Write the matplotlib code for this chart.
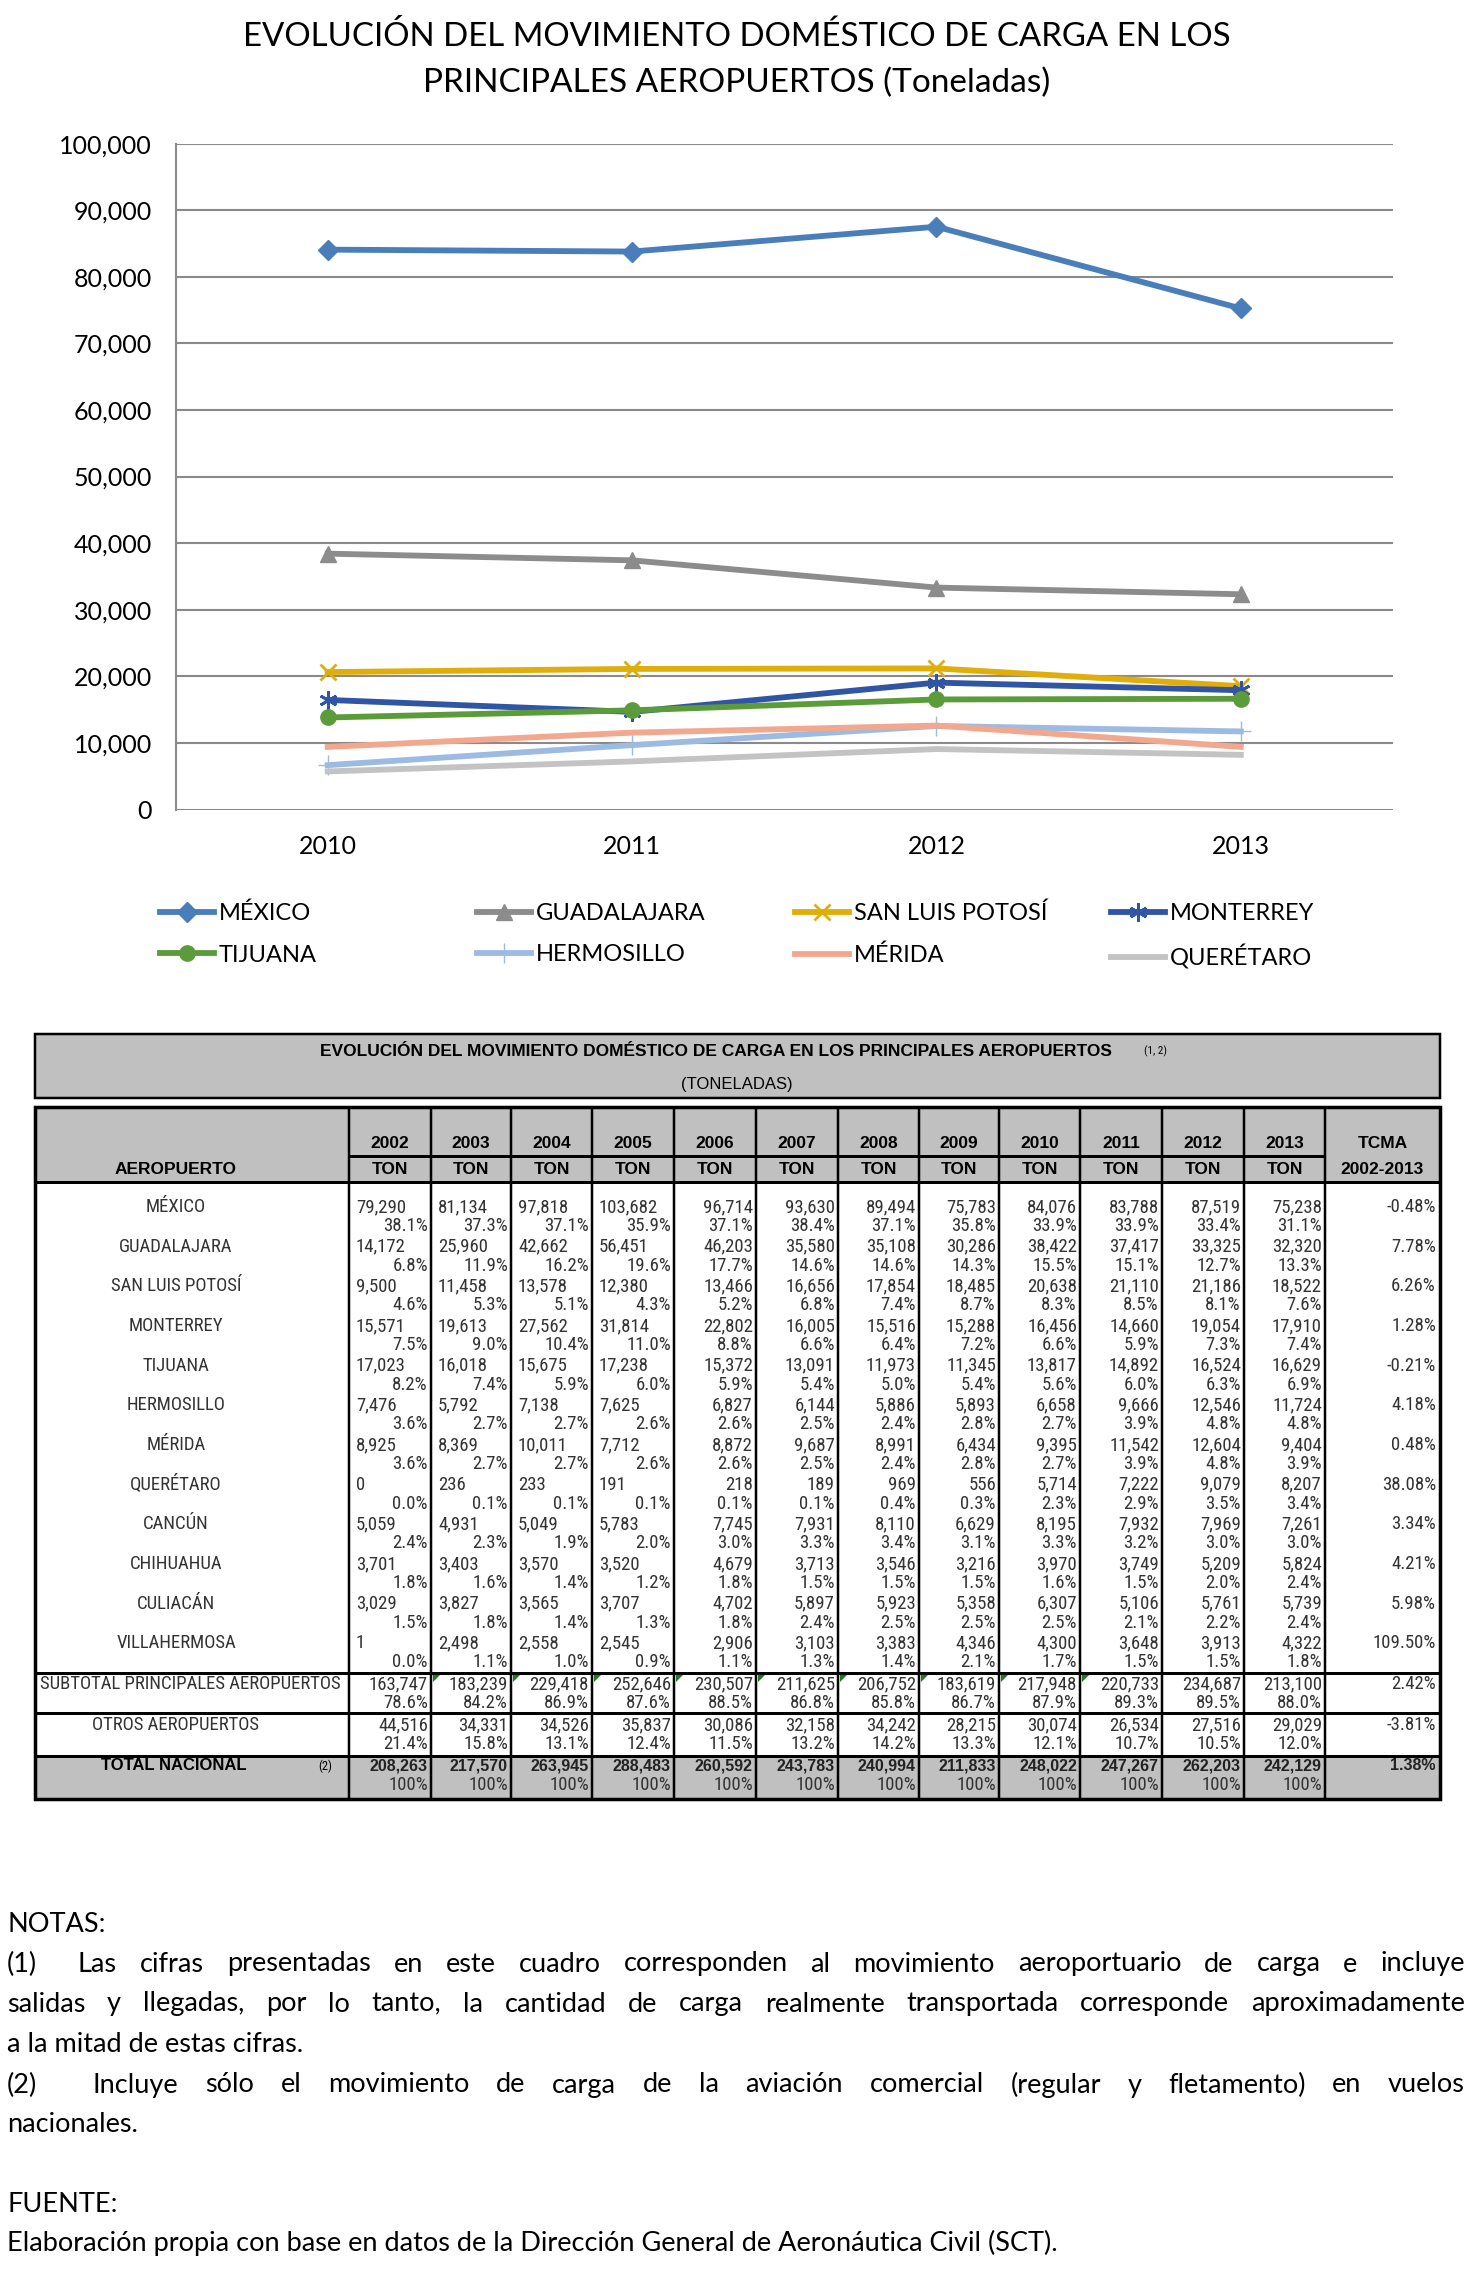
import matplotlib

matplotlib.use("Agg")
import matplotlib.pyplot as plt
from matplotlib import font_manager
from matplotlib.font_manager import FontProperties
from matplotlib.patches import Rectangle, Polygon

W, H = 1474, 2274

# ==================== Data ====================
TABLE_YEARS = ["2002", "2003", "2004", "2005", "2006", "2007",
               "2008", "2009", "2010", "2011", "2012", "2013"]
CHART_YEARS = ["2010", "2011", "2012", "2013"]

AIRPORTS = ["MÉXICO", "GUADALAJARA", "SAN LUIS POTOSÍ", "MONTERREY", "TIJUANA",
            "HERMOSILLO", "MÉRIDA", "QUERÉTARO", "CANCÚN", "CHIHUAHUA",
            "CULIACÁN", "VILLAHERMOSA"]

MEXICO = [79290, 81134, 97818, 103682, 96714, 93630, 89494, 75783, 84076, 83788, 87519, 75238]
MEXICO_PCT = [38.1, 37.3, 37.1, 35.9, 37.1, 38.4, 37.1, 35.8, 33.9, 33.9, 33.4, 31.1]
GUADALAJARA = [14172, 25960, 42662, 56451, 46203, 35580, 35108, 30286, 38422, 37417, 33325, 32320]
GUADALAJARA_PCT = [6.8, 11.9, 16.2, 19.6, 17.7, 14.6, 14.6, 14.3, 15.5, 15.1, 12.7, 13.3]
SAN_LUIS = [9500, 11458, 13578, 12380, 13466, 16656, 17854, 18485, 20638, 21110, 21186, 18522]
SAN_LUIS_PCT = [4.6, 5.3, 5.1, 4.3, 5.2, 6.8, 7.4, 8.7, 8.3, 8.5, 8.1, 7.6]
MONTERREY = [15571, 19613, 27562, 31814, 22802, 16005, 15516, 15288, 16456, 14660, 19054, 17910]
MONTERREY_PCT = [7.5, 9.0, 10.4, 11.0, 8.8, 6.6, 6.4, 7.2, 6.6, 5.9, 7.3, 7.4]
TIJUANA = [17023, 16018, 15675, 17238, 15372, 13091, 11973, 11345, 13817, 14892, 16524, 16629]
TIJUANA_PCT = [8.2, 7.4, 5.9, 6.0, 5.9, 5.4, 5.0, 5.4, 5.6, 6.0, 6.3, 6.9]
HERMOSILLO = [7476, 5792, 7138, 7625, 6827, 6144, 5886, 5893, 6658, 9666, 12546, 11724]
HERMOSILLO_PCT = [3.6, 2.7, 2.7, 2.6, 2.6, 2.5, 2.4, 2.8, 2.7, 3.9, 4.8, 4.8]
MERIDA = [8925, 8369, 10011, 7712, 8872, 9687, 8991, 6434, 9395, 11542, 12604, 9404]
MERIDA_PCT = [3.6, 2.7, 2.7, 2.6, 2.6, 2.5, 2.4, 2.8, 2.7, 3.9, 4.8, 3.9]
QUERETARO = [0, 236, 233, 191, 218, 189, 969, 556, 5714, 7222, 9079, 8207]
QUERETARO_PCT = [0.0, 0.1, 0.1, 0.1, 0.1, 0.1, 0.4, 0.3, 2.3, 2.9, 3.5, 3.4]
CANCUN = [5059, 4931, 5049, 5783, 7745, 7931, 8110, 6629, 8195, 7932, 7969, 7261]
CANCUN_PCT = [2.4, 2.3, 1.9, 2.0, 3.0, 3.3, 3.4, 3.1, 3.3, 3.2, 3.0, 3.0]
CHIHUAHUA = [3701, 3403, 3570, 3520, 4679, 3713, 3546, 3216, 3970, 3749, 5209, 5824]
CHIHUAHUA_PCT = [1.8, 1.6, 1.4, 1.2, 1.8, 1.5, 1.5, 1.5, 1.6, 1.5, 2.0, 2.4]
CULIACAN = [3029, 3827, 3565, 3707, 4702, 5897, 5923, 5358, 6307, 5106, 5761, 5739]
CULIACAN_PCT = [1.5, 1.8, 1.4, 1.3, 1.8, 2.4, 2.5, 2.5, 2.5, 2.1, 2.2, 2.4]
VILLAHERMOSA = [1, 2498, 2558, 2545, 2906, 3103, 3383, 4346, 4300, 3648, 3913, 4322]
VILLAHERMOSA_PCT = [0.0, 1.1, 1.0, 0.9, 1.1, 1.3, 1.4, 2.1, 1.7, 1.5, 1.5, 1.8]
SUBTOTAL = [163747, 183239, 229418, 252646, 230507, 211625, 206752, 183619, 217948, 220733, 234687, 213100]
SUBTOTAL_PCT = [78.6, 84.2, 86.9, 87.6, 88.5, 86.8, 85.8, 86.7, 87.9, 89.3, 89.5, 88.0]
OTROS = [44516, 34331, 34526, 35837, 30086, 32158, 34242, 28215, 30074, 26534, 27516, 29029]
OTROS_PCT = [21.4, 15.8, 13.1, 12.4, 11.5, 13.2, 14.2, 13.3, 12.1, 10.7, 10.5, 12.0]
TOTAL = [208263, 217570, 263945, 288483, 260592, 243783, 240994, 211833, 248022, 247267, 262203, 242129]

TCMA = ["-0.48%", "7.78%", "6.26%", "1.28%", "-0.21%", "4.18%", "0.48%",
        "38.08%", "3.34%", "4.21%", "5.98%", "109.50%"]
TCMA_SUBTOTAL, TCMA_OTROS, TCMA_TOTAL = "2.42%", "-3.81%", "1.38%"

AIRPORT_VALUES = [MEXICO, GUADALAJARA, SAN_LUIS, MONTERREY, TIJUANA, HERMOSILLO,
                  MERIDA, QUERETARO, CANCUN, CHIHUAHUA, CULIACAN, VILLAHERMOSA]
AIRPORT_PCTS = [MEXICO_PCT, GUADALAJARA_PCT, SAN_LUIS_PCT, MONTERREY_PCT, TIJUANA_PCT,
                HERMOSILLO_PCT, MERIDA_PCT, QUERETARO_PCT, CANCUN_PCT, CHIHUAHUA_PCT,
                CULIACAN_PCT, VILLAHERMOSA_PCT]

# chart series: first eight airports, years 2010-2013
CHART_N = 8
# (color, marker, markersize, markeredgewidth)
STYLES = [
    ("#4a7ebb", "D", 10, 1),
    ("#8c8c8c", "^", 11, 1),
    ("#e0ae0a", "x", 11, 2),
    ("#2f55a4", (6, 2, 0), 13, 2),
    ("#5b9b3a", "o", 11, 1),
    ("#9dbbe2", "+", 14, 1),
    ("#f2a88e", "None", 0, 0),
    ("#c3c3c3", "None", 0, 0),
]

# ==================== Fonts ====================
ARIAL = "Liberation Sans"
CAL = "Lato"


def find_narrow():
    fonts = font_manager.fontManager.ttflist
    prefer = ["Liberation Sans Narrow", "Arial Narrow", "Roboto Condensed",
              "Noto Sans", "DejaVu Sans", "Open Sans", "Roboto", "Liberation Sans"]
    cands = [f for f in fonts
             if f.style == "normal" and f.weight in (400, "normal", "regular")
             and (f.stretch in ("condensed", "semi-condensed")
                  or "Narrow" in f.name or "Condensed" in f.name)]
    for p in prefer:
        for f in cands:
            if f.name == p:
                return f.fname
    return cands[0].fname if cands else None


narrow_file = find_narrow()


def nprop(size):
    if narrow_file:
        return FontProperties(fname=narrow_file, size=size)
    return FontProperties(family=ARIAL, size=size * 0.9)


# ==================== Figure ====================
fig = plt.figure(figsize=(W / 100, H / 100), dpi=100)

# full-page layer in pixel units (table + notes)
lay = fig.add_axes([0, 0, 1, 1])
lay.set_xlim(0, W)
lay.set_ylim(H, 0)
lay.axis("off")

# ==================== Chart ====================
ax_l, ax_r, ax_t, ax_b = 175.5, 1393, 143.6, 809.5
ax = fig.add_axes([ax_l / W, 1 - ax_b / H, (ax_r - ax_l) / W, (ax_b - ax_t) / H])
ax.set_facecolor("none")

xs = list(range(len(CHART_YEARS)))
lines = []
for i in range(CHART_N):
    color, marker, ms, mew = STYLES[i]
    (ln,) = ax.plot(xs, AIRPORT_VALUES[i][-4:], color=color, lw=4.2,
                    marker=marker, markersize=ms, markeredgewidth=mew,
                    markerfacecolor=color, markeredgecolor=color,
                    solid_joinstyle="round", label=AIRPORTS[i], zorder=3 + i)
    lines.append(ln)

ax.set_xlim(-0.5, 3.5)
ax.set_ylim(0, 100000)
ax.set_yticks(range(0, 100001, 10000))
ax.set_yticklabels([f"{v:,}" for v in range(0, 100001, 10000)])
ax.set_xticks(xs)
ax.set_xticklabels(CHART_YEARS)
ax.tick_params(length=0, labelsize=18, colors="black")
ax.tick_params(axis="y", pad=17)
ax.tick_params(axis="x", pad=18)
for lab in ax.get_xticklabels() + ax.get_yticklabels():
    lab.set_family(CAL)
ax.grid(axis="y", color="#8a8a8a", lw=1.5)
ax.set_axisbelow(True)
for s in ["top", "right", "bottom"]:
    ax.spines[s].set_visible(False)
ax.spines["left"].set_color("#8a8a8a")
ax.spines["left"].set_linewidth(1.5)

fig.text(0.5, 1 - 36 / H, "EVOLUCIÓN DEL MOVIMIENTO DOMÉSTICO DE CARGA EN LOS",
         ha="center", va="center", fontsize=23.8, family=CAL)
fig.text(0.5, 1 - 83 / H, "PRINCIPALES AEROPUERTOS (Toneladas)",
         ha="center", va="center", fontsize=24, family=CAL)

# legend: one two-row legend per column
leg_x = [160, 477, 795, 1111]
for c in range(4):
    fig.legend([lines[c], lines[c + 4]], [AIRPORTS[c], AIRPORTS[c + 4]],
               loc="upper left", bbox_to_anchor=(leg_x[c] / W, 1 - 903 / H),
               frameon=False, prop={"family": CAL, "size": 17},
               handlelength=2.3, handletextpad=0.2, labelspacing=0.85,
               borderpad=0, borderaxespad=0)

# ==================== Table ====================
XE = [35, 349, 431, 511, 592, 674, 756, 838, 919, 999, 1080, 1162, 1244, 1325, 1440]
GRAY = "#c0c0c0"
PX = 1 / 1.389  # px -> pt

# title box
lay.add_patch(Rectangle((35, 1034), 1405, 64, fc=GRAY, ec="black", lw=2.5 * PX))
lay.text(716, 1051, "EVOLUCIÓN DEL MOVIMIENTO DOMÉSTICO DE CARGA EN LOS PRINCIPALES AEROPUERTOS",
         ha="center", va="center", fontsize=12.5, weight="bold", family=ARIAL)
lay.text(1156, 1051, "(1, 2)", ha="center", va="center", fontproperties=nprop(8))
lay.text(737, 1084, "(TONELADAS)", ha="center", va="center", fontsize=12, family=ARIAL)

T_TOP, HDR_SEP, HDR_BOT = 1107, 1156, 1182
SUB_TOP, OTR_TOP, TOT_TOP, T_BOT = 1673, 1713, 1756, 1799

lay.add_patch(Rectangle((XE[0], T_TOP), XE[-1] - XE[0], HDR_BOT - T_TOP, fc=GRAY, ec="none"))
lay.add_patch(Rectangle((XE[0], TOT_TOP), XE[-1] - XE[0], T_BOT - TOT_TOP, fc=GRAY, ec="none"))

lay.vlines(XE[1:-1], T_TOP, T_BOT, color="black", lw=2.5 * PX)
lay.hlines([HDR_BOT, SUB_TOP, OTR_TOP, TOT_TOP], XE[0], XE[-1], color="black", lw=3 * PX)
lay.hlines(HDR_SEP, XE[1], XE[-2], color="black", lw=3 * PX)
lay.add_patch(Rectangle((XE[0], T_TOP), XE[-1] - XE[0], T_BOT - T_TOP, fc="none", ec="black", lw=3.5 * PX))

# excel error marks on subtotal cells
for j in range(1, 10):
    x0 = XE[j + 1] + 2
    lay.add_patch(Polygon([(x0, SUB_TOP + 2), (x0 + 7, SUB_TOP + 2), (x0, SUB_TOP + 9)],
                          closed=True, fc="#1e7b1e", ec="none"))

hdr_kw = dict(ha="center", va="center", fontsize=12.5, weight="bold", family=ARIAL)
for j, yr in enumerate(TABLE_YEARS):
    cx = (XE[j + 1] + XE[j + 2]) / 2
    lay.text(cx, 1143, yr, **hdr_kw)
    lay.text(cx, 1169, "TON", **hdr_kw)
cx = (XE[-2] + XE[-1]) / 2
lay.text(cx, 1143, "TCMA", **hdr_kw)
lay.text(cx, 1169, "2002-2013", **hdr_kw)
lay.text(176, 1169, "AEROPUERTO", **hdr_kw)

CELL_SIZE = 13.5
cell_kw = dict(va="center", color="#333333")


def put_row(y, vals, pcts, tcma, right_only=False, bold=False, total=False):
    for j, v in enumerate(vals):
        left, right = XE[j + 1], XE[j + 2]
        s = f"{v:,}"
        if bold:
            lay.text(right - 3, y, s, ha="right", fontsize=11.5, weight="bold",
                     family=ARIAL, va="center", color="#222222")
        elif j < 4 and not right_only:
            lay.text(left + 7, y, s, ha="left", fontproperties=nprop(CELL_SIZE), **cell_kw)
        else:
            lay.text(right - 3, y, s, ha="right", fontproperties=nprop(CELL_SIZE), **cell_kw)
        p = "100%" if total else f"{pcts[j]:.1f}%"
        lay.text(right - 3, y + 19, p, ha="right", fontproperties=nprop(CELL_SIZE), **cell_kw)
    if bold:
        lay.text(XE[-1] - 4, y, tcma, ha="right", fontsize=11.5, weight="bold",
                 family=ARIAL, va="center", color="#222222")
    else:
        lay.text(XE[-1] - 4, y, tcma, ha="right", fontproperties=nprop(CELL_SIZE), **cell_kw)


ROW0, PITCH = 1207, 39.68
for i, name in enumerate(AIRPORTS):
    y = ROW0 + i * PITCH
    lay.text(176, y, name, ha="center", fontproperties=nprop(CELL_SIZE), **cell_kw)
    put_row(y, AIRPORT_VALUES[i], AIRPORT_PCTS[i], TCMA[i])

lay.text(40, 1684, "SUBTOTAL PRINCIPALES AEROPUERTOS", ha="left",
         fontproperties=nprop(CELL_SIZE), **cell_kw)
put_row(1684, SUBTOTAL, SUBTOTAL_PCT, TCMA_SUBTOTAL, right_only=True)
lay.text(176, 1725, "OTROS AEROPUERTOS", ha="center", fontproperties=nprop(CELL_SIZE), **cell_kw)
put_row(1725, OTROS, OTROS_PCT, TCMA_OTROS, right_only=True)
lay.text(174, 1766, "TOTAL NACIONAL", ha="center", va="center", fontsize=12,
         weight="bold", family=ARIAL)
lay.text(325, 1766, "(2)", ha="center", va="center", fontproperties=nprop(9))
put_row(1766, TOTAL, None, TCMA_TOTAL, right_only=True, bold=True, total=True)

# ==================== Notes ====================
renderer = fig.canvas.get_renderer()
note_kw = dict(va="center", fontsize=19.5, family=CAL, color="black")


def justify(text, y, x0, x1):
    words = text.split()
    objs = [lay.text(0, y, w, ha="left", **note_kw) for w in words]
    widths = [o.get_window_extent(renderer).width for o in objs]
    gap = (x1 - x0 - sum(widths)) / (len(words) - 1)
    x = x0
    for o, w in zip(objs, widths):
        o.set_x(x)
        x += w + gap


lay.text(7, 1925, "NOTAS:", ha="left", **note_kw)
lay.text(7, 1964, "(1)", ha="left", **note_kw)
justify("Las cifras presentadas en este cuadro corresponden al movimiento aeroportuario de carga e incluye",
        1964, 78, 1465)
justify("salidas y llegadas, por lo tanto, la cantidad de carga realmente transportada corresponde aproximadamente",
        2004, 7, 1465)
lay.text(7, 2044, "a la mitad de estas cifras.", ha="left", **note_kw)
lay.text(7, 2085, "(2)", ha="left", **note_kw)
justify("Incluye sólo el movimiento de carga de la aviación comercial (regular y fletamento) en vuelos",
        2085, 93, 1465)
lay.text(7, 2124, "nacionales.", ha="left", **note_kw)
lay.text(7, 2204, "FUENTE:", ha="left", **note_kw)
lay.text(7, 2243, "Elaboración propia con base en datos de la Dirección General de Aeronáutica Civil (SCT).",
         ha="left", **note_kw)

fig.savefig("out.png", dpi=100)
plt.close(fig)
